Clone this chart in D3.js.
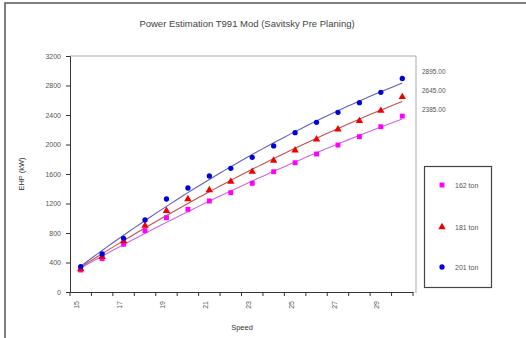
<!DOCTYPE html>
<html><head><meta charset="utf-8">
<script src="https://cdn.jsdelivr.net/npm/d3@7"></script>
<style>body{margin:0;background:#fff}text{font-family:"Liberation Sans",Arial,sans-serif}</style>
</head><body>
<svg id="c" width="526" height="338"></svg>
<script>
const speeds = [15,16,17,18,19,20,21,22,23,24,25,26,27,28,29,30];
const tickLabels = [15,17,19,21,23,25,27,29];
const yTicks = [0,400,800,1200,1600,2000,2400,2800,3200];
const seriesNames = ["162 ton","181 ton","201 ton"];
const ehp162 = [298,452,647,831,1007,1121,1234,1347,1474,1631,1753,1871,1993,2106,2241,2385];
const ehp181 = [312,475,691,899,1102,1261,1383,1496,1631,1781,1920,2071,2206,2319,2458,2645];
const ehp201 = [345,515,728,976,1261,1410,1573,1677,1826,1980,2160,2301,2437,2567,2708,2895];
const endLabels = ["2895.00","2645.00","2385.00"];

const svg = d3.select("#c");
const m={l:70,r:416,t:56,b:292};

// outer border
svg.append("rect").attr("x",5).attr("y",3).attr("width",600).attr("height",600)
  .attr("fill","none").attr("stroke","#555").attr("stroke-width",1.5);

const x = d3.scaleBand().domain(speeds).range([m.l,413]).paddingInner(0).paddingOuter(0);
const y = d3.scaleLinear().domain([0,3200]).range([m.b,m.t]);

// plot frame (top & right)
svg.append("path").attr("d",`M${m.l},${m.t}H${m.r}V${m.b+1}`).attr("fill","none").attr("stroke","#aaa").attr("stroke-width",1);

// y axis
const ya = svg.append("g").attr("transform",`translate(${m.l},0)`)
  .call(d3.axisLeft(y).tickValues(yTicks).tickSize(4).tickPadding(5).tickFormat(d3.format("d")));
ya.select(".domain").attr("stroke","#333");
ya.selectAll(".tick line").attr("stroke","#333");
ya.selectAll("text").attr("font-size",7).attr("fill","#555");

// x axis
const xa = svg.append("g").attr("transform",`translate(0,${m.b})`)
  .call(d3.axisBottom(x).tickSize(0).tickFormat(d=>tickLabels.includes(d)?d:""));
xa.select(".domain").attr("stroke","#333");
xa.selectAll("text").attr("font-size",7).attr("fill","#555")
  .attr("transform","rotate(-90)").attr("text-anchor","end").attr("dx","-9").attr("dy","-0.2em").attr("y",0).attr("x",0);
const bounds = speeds.map(s=>x(s)).concat([x(30)+x.bandwidth()]);
svg.append("g").selectAll("line").data(bounds).join("line")
  .attr("x1",d=>d).attr("x2",d=>d).attr("y1",m.b).attr("y2",m.b+4).attr("stroke","#333");

// titles
svg.append("text").attr("x",247).attr("y",27).attr("text-anchor","middle").attr("font-size",9.5).attr("fill","#444")
  .text("Power Estimation T991 Mod (Savitsky Pre Planing)");
svg.append("text").attr("transform","translate(24,174) rotate(-90)").attr("text-anchor","middle").attr("font-size",7.5).attr("fill","#333").text("EHP (kW)");
svg.append("text").attr("x",242).attr("y",330).attr("text-anchor","middle").attr("font-size",7.5).attr("fill","#333").text("Speed");

const cx = s => x(s)+x.bandwidth()/2;

// quadratic least-squares trendline (Excel-style)
function fit(vals){
  let S=[0,0,0,0,0],T=[0,0,0];
  vals.forEach((v,i)=>{const t=i+1;let p=1;for(let k=0;k<5;k++){S[k]+=p;p*=t;}T[0]+=v;T[1]+=v*t;T[2]+=v*t*t;});
  const A=[[S[0],S[1],S[2]],[S[1],S[2],S[3]],[S[2],S[3],S[4]]];
  const det=M=>M[0][0]*(M[1][1]*M[2][2]-M[1][2]*M[2][1])-M[0][1]*(M[1][0]*M[2][2]-M[1][2]*M[2][0])+M[0][2]*(M[1][0]*M[2][1]-M[1][1]*M[2][0]);
  const D=det(A);const c=[0,1,2].map(j=>{const B=A.map((r,i)=>r.map((v,k)=>k===j?T[i]:v));return det(B)/D;});
  return t=>c[0]+c[1]*t+c[2]*t*t;
}

const series=[
  {name:seriesNames[0],vals:ehp162,color:"#ff00ff",line:"#cc66dd",shape:d3.symbolSquare,size:24},
  {name:seriesNames[1],vals:ehp181,color:"#ee0000",line:"#c05050",shape:d3.symbolTriangle,size:24},
  {name:seriesNames[2],vals:ehp201,color:"#0000dd",line:"#6060bb",shape:d3.symbolCircle,size:22},
];
series.forEach(s=>{
  const f=fit(s.vals);
  const pts=d3.range(0,15.01,0.25).map(t=>[cx(15)+t*x.bandwidth(), y(f(t+1))]);
  svg.append("path").attr("d",d3.line()(pts)).attr("fill","none").attr("stroke",s.line).attr("stroke-width",1.1);
});
series.forEach(s=>{
  svg.append("g").selectAll("path").data(s.vals).join("path")
    .attr("transform",(v,i)=>`translate(${cx(speeds[i])},${y(v)})`)
    .attr("d",d3.symbol().type(s.shape).size(s.size)).attr("fill",s.color);
});

// end labels
[ehp201,ehp181,ehp162].forEach((vals,i)=>{
  svg.append("text").attr("x",422).attr("y",y(vals[vals.length-1])-4).attr("font-size",6.5).attr("fill","#555").text(endLabels[i]);
});

// legend
const lg=svg.append("g");
lg.append("rect").attr("x",424.5).attr("y",166.5).attr("width",67).attr("height",121).attr("fill","#fff").attr("stroke","#444").attr("stroke-width",1.2);
const ly=[185,227,267];
series.forEach((s,i)=>{
  lg.append("path").attr("transform",`translate(442,${ly[i]})`).attr("d",d3.symbol().type(s.shape).size(s.size)).attr("fill",s.color);
  lg.append("text").attr("x",455).attr("y",ly[i]+2.5).attr("font-size",7).attr("fill","#555").text(s.name);
});
</script>
</body></html>
